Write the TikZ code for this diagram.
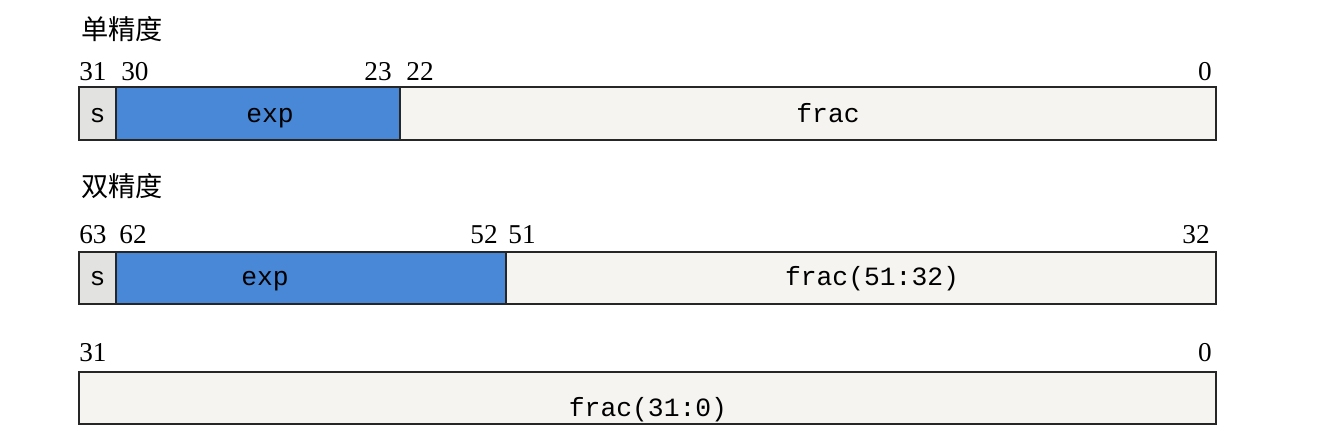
\documentclass[tikz,border=0pt]{standalone}
\usepackage{fontspec}
\setmainfont{Liberation Serif}
\setmonofont{Liberation Mono}
\newfontfamily\cjk{Noto Sans CJK SC}
\definecolor{expblue}{RGB}{72,136,214}
\definecolor{fracbg}{RGB}{246,244,240}
\definecolor{signbg}{RGB}{226,226,224}
\tikzset{signbit/.style={draw=black!85,thick,fill=signbg}}
\tikzset{expbits/.style={draw=black!85,thick,fill=expblue}}
\tikzset{fracbits/.style={draw=black!85,thick,fill=fracbg}}
\tikzset{bitno/.style={font=\fontsize{15.5}{15.5}\selectfont,inner sep=0pt,anchor=base}}
\tikzset{field/.style={font=\ttfamily\fontsize{15}{15}\selectfont,inner sep=0pt,anchor=base}}
\tikzset{title/.style={font=\cjk\fontsize{15.5}{15.5}\selectfont,inner sep=0pt,anchor=west}}

\begin{document}
\begin{tikzpicture}[x=0.02cm,y=-0.02cm]

\useasboundingbox (0,0) rectangle (1330,444);

\pgfmathsetmacro{\xl}{79}
\pgfmathsetmacro{\xr}{1216}
\pgfmathsetmacro{\xs}{116}

% 単精度
\node[title] (tsingle) at (81,29) {单精度};
\draw[fracbits] (\xl,87) rectangle (\xr,140);
\draw[signbit] (\xl,87) rectangle (\xs,140);
\draw[expbits] (\xs,87) rectangle (400,140);
\node[field] (s1) at (97.5,122) {s};
\node[field] (exp1) at (270,122) {exp};
\node[field] (frac1) at (828,122) {frac};
\node[bitno] (b31) at (93,80) {31};
\node[bitno] (b30) at (135,80) {30};
\node[bitno] (b23) at (378,80) {23};
\node[bitno] (b22) at (420,80) {22};
\node[bitno] (b0) at (1205,80) {0};

% 双精度（上位）
\node[title] (tdouble) at (81,186) {双精度};
\draw[fracbits] (\xl,252) rectangle (\xr,304);
\draw[signbit] (\xl,252) rectangle (\xs,304);
\draw[expbits] (\xs,252) rectangle (506,304);
\node[field] (s2) at (97.5,285) {s};
\node[field] (exp2) at (265,285) {exp};
\node[field] (frac2) at (872,285) {frac(51:32)};
\node[bitno] (d63) at (93,243) {63};
\node[bitno] (d62) at (133,243) {62};
\node[bitno] (d52) at (484,243) {52};
\node[bitno] (d51) at (522,243) {51};
\node[bitno] (d32) at (1196,243) {32};

% 双精度（下位）
\draw[fracbits] (\xl,372) rectangle (\xr,424);
\node[field] (frac3) at (648,416) {frac(31:0)};
\node[bitno] (e31) at (93,361) {31};
\node[bitno] (e0) at (1205,361) {0};

\end{tikzpicture}
\end{document}
